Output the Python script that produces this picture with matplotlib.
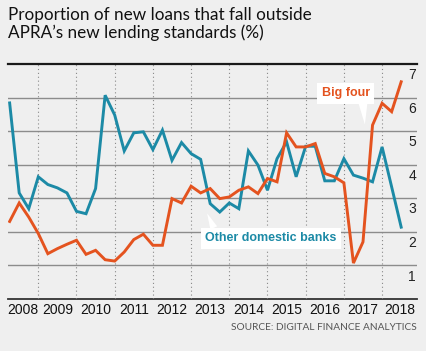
import numpy as np
import pandas as pd
import matplotlib
matplotlib.use("Agg")
import matplotlib.pyplot as plt

# quarterly readings, 2008Q2 .. 2018Q3
quarters = pd.period_range("2008Q2", "2018Q3", freq="Q")
big_four = [2.31, 2.86, 2.44, 1.95, 1.35, 1.50, 1.63, 1.75, 1.33, 1.45,
            1.17, 1.13, 1.40, 1.77, 1.93, 1.60, 1.60, 2.99, 2.86, 3.36,
            3.16, 3.29, 2.99, 3.04, 3.24, 3.34, 3.14, 3.59, 3.49, 4.95,
            4.53, 4.53, 4.63, 3.74, 3.64, 3.46, 1.07, 1.70, 5.18, 5.83,
            5.58, 6.47]
other_banks = [5.84, 3.16, 2.69, 3.64, 3.41, 3.31, 3.16, 2.61, 2.54, 3.29,
               6.07, 5.48, 4.41, 4.95, 4.98, 4.45, 5.03, 4.13, 4.66, 4.33,
               4.16, 2.84, 2.59, 2.86, 2.69, 4.41, 3.99, 3.24, 4.18, 4.68,
               3.64, 4.55, 4.55, 3.52, 3.52, 4.18, 3.69, 3.60, 3.49, 4.53,
               3.34, 2.14]
years = list(range(2008, 2019))
yticks = [1, 2, 3, 4, 5, 6, 7]

title = "Proportion of new loans that fall outside\nAPRA\u2019s new lending standards (%)"
source = "SOURCE: DIGITAL FINANCE ANALYTICS"

ORANGE = "#e4531f"
TEAL = "#1c8aa6"
BG = "#efefef"

x = np.array([p.year + (p.quarter - 1) / 4 for p in quarters])

fig = plt.figure(figsize=(4.26, 3.51), dpi=100, facecolor=BG)
ax = fig.add_axes([8 / 426, 52 / 351, 409 / 426, 235 / 351], facecolor=BG)
xmin, xmax = 2008.207, 2018.914
ax.set_xlim(xmin, xmax)
ax.set_ylim(0, 7)

for s in ax.spines.values():
    s.set_visible(False)
ax.set_xticks([])
ax.set_yticks([])

# gridlines and year separators
for v in yticks[:-1]:
    ax.axhline(v, color="#8c8c8c", lw=1.0, zorder=1)
ax.axhline(7, color="#1a1a1a", lw=1.6, zorder=1, clip_on=False)
ax.axhline(0, color="#333333", lw=1.3, zorder=1, clip_on=False)
for yr in years[1:]:
    ax.axvline(yr, color="#888888", lw=0.8, ls=(0, (1, 2.5)), zorder=1)

for v in yticks:
    ax.text(2018.79, v - 0.33, str(v), ha="center", va="center",
            fontsize=10, family="Liberation Sans", color="#222222")

for yr in years:
    lo, hi = max(yr, xmin), min(yr + 1, xmax)
    ax.text((lo + hi) / 2, -0.12, str(yr), ha="center", va="top",
            fontsize=10, family="Liberation Sans", color="#111111")

ax.plot(x, other_banks, color=TEAL, lw=2.1, zorder=3, solid_joinstyle="miter")
ax.plot(x, big_four, color=ORANGE, lw=2.1, zorder=4, solid_joinstyle="miter")

box = dict(boxstyle="square,pad=0.35", fc="white", ec="none")
ax.annotate("Big four", xy=(2017.55, 5.2), xytext=(2017.05, 6.13),
            ha="center", va="center", fontsize=9, fontweight="bold",
            family="Liberation Sans", color=ORANGE, bbox=box, zorder=5,
            arrowprops=dict(arrowstyle="wedge,tail_width=0.7", fc="white",
                            ec="none", shrinkA=0, shrinkB=0,
                            relpos=(0.85, 0.0)))
ax.annotate("Other domestic banks", xy=(2013.42, 2.55), xytext=(2015.09, 1.81),
            ha="center", va="center", fontsize=9, fontweight="bold",
            family="Liberation Sans", color=TEAL, bbox=box, zorder=5,
            arrowprops=dict(arrowstyle="wedge,tail_width=0.6", fc="white",
                            ec="none", shrinkA=0, shrinkB=0,
                            relpos=(0.08, 1.0)))

fig.text(8 / 426, 1 - 7 / 351, title, ha="left", va="top", fontsize=12.3,
         family="Lato", color="#111111", linespacing=1.1)
fig.text(417 / 426, 1 - 327 / 351, source, ha="right", va="center",
         fontsize=7.3, family="Lato", color="#555555")

fig.savefig("out.png", dpi=100, facecolor=BG)
